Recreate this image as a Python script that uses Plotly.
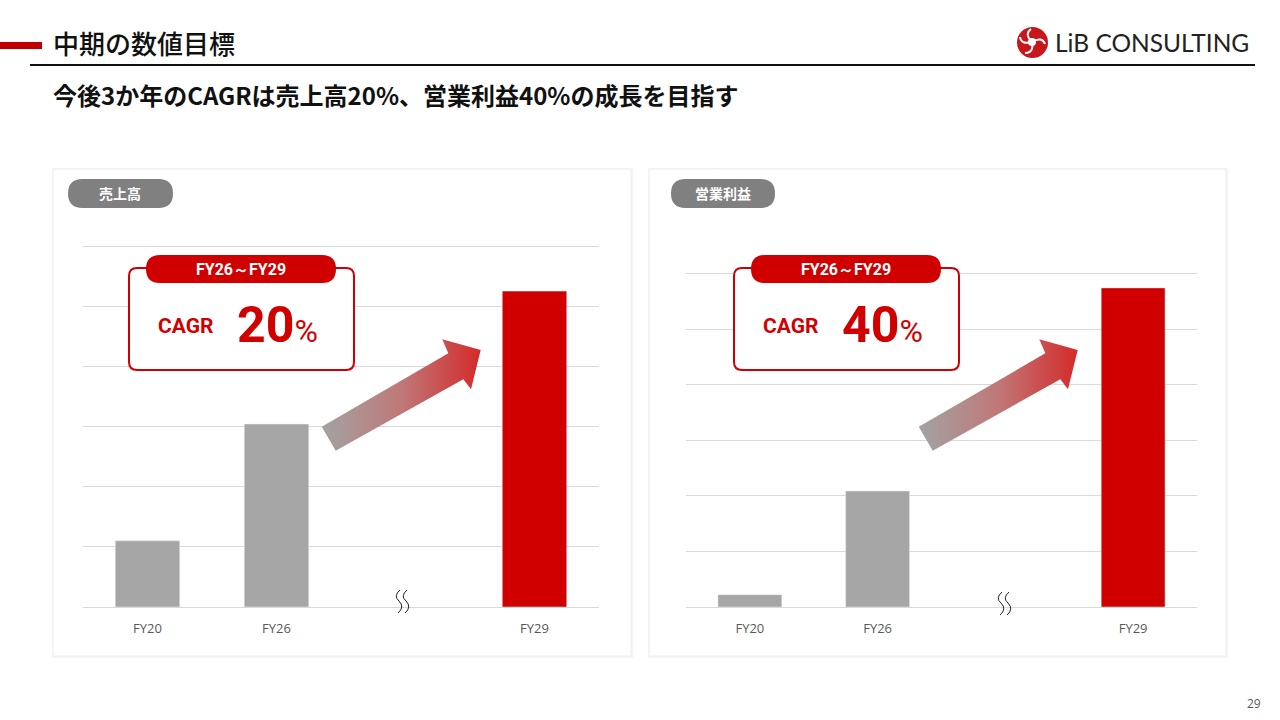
import plotly.graph_objects as go

# Data (heights in grid units)
categories = ["FY20", "FY26", "", "FY29"]
sales = [1.1, 3.04, None, 5.25]
profit = [0.22, 2.09, None, 5.75]
bar_colors = ["#a6a6a6", "#a6a6a6", "#a6a6a6", "#d00000"]

panel_titles = ["売上高", "営業利益"]
cagr_period = "FY26～FY29"
cagr_values = ["20", "40"]

RED = "#d00000"
NARROW = "Liberation Sans Narrow, Roboto, Arial, sans-serif"
JP = "Noto Sans CJK JP, sans-serif"
W, H = 1280, 720
YTOP = 6.05


def px(x):
    return x / W


def py(y):
    return 1 - y / H


def rrect(x0, y0, x1, y1, r):
    return (f"M {x0+r},{y0} L {x1-r},{y0} Q {x1},{y0} {x1},{y0+r} "
            f"L {x1},{y1-r} Q {x1},{y1} {x1-r},{y1} L {x0+r},{y1} "
            f"Q {x0},{y1} {x0},{y1-r} L {x0},{y0+r} Q {x0},{y0} {x0+r},{y0} Z")


xs = list(range(len(categories)))
fig = go.Figure()

fig.add_trace(go.Bar(x=xs, y=sales, marker_color=bar_colors, width=0.5,
                     xaxis="x", yaxis="y", hoverinfo="skip"))
fig.add_trace(go.Bar(x=xs, y=profit, marker_color=bar_colors, width=0.5,
                     xaxis="x2", yaxis="y2", hoverinfo="skip"))

# gradient arrows (pixel space overlay)
arrow_x = [321.7, 448.3, 442.3, 480.7, 471.0, 463.3, 335.7, 321.7]
arrow_y = [426.7, 353.3, 339.3, 350.0, 389.3, 379.3, 450.7, 426.7]
for dx in [0, 597]:
    fig.add_trace(go.Scatter(
        x=[v + dx for v in arrow_x], y=arrow_y, mode="lines", fill="toself",
        line=dict(width=0, color="rgba(0,0,0,0)"),
        fillgradient=dict(type="horizontal",
                          colorscale=[[0, "#a3a3a3"], [0.5, "#c07878"], [1, "#d42a2a"]]),
        xaxis="x3", yaxis="y3", hoverinfo="skip", showlegend=False))

axis_common = dict(range=[-0.5, 3.5], tickvals=xs, ticktext=categories,
                   showgrid=False, zeroline=False, showline=False, ticks="",
                   tickfont=dict(family="Open Sans, sans-serif", size=13, color="#595959"),
                   ticklabelstandoff=12, fixedrange=True)
yaxis_common = dict(range=[0, YTOP], dtick=1, showticklabels=False, gridcolor="#d9d9d9",
                    gridwidth=1, zeroline=True, zerolinecolor="#d9d9d9", zerolinewidth=1,
                    fixedrange=True)

# pixel positions of the 0 and 6 gridlines in each panel
left_top = 607 - YTOP * (607 - 246) / 6
right_top = 607 - YTOP * (607 - 274) / 6

fig.update_layout(
    width=W, height=H, margin=dict(l=0, r=0, t=0, b=0),
    paper_bgcolor="white", plot_bgcolor="rgba(0,0,0,0)", showlegend=False,
    xaxis=dict(domain=[px(83), px(599)], anchor="y", **axis_common),
    yaxis=dict(domain=[py(607), py(left_top)], anchor="x", **yaxis_common),
    xaxis2=dict(domain=[px(686), px(1197)], anchor="y2", **axis_common),
    yaxis2=dict(domain=[py(607), py(right_top)], anchor="x2", **yaxis_common),
    xaxis3=dict(domain=[0, 1], range=[0, W], visible=False, anchor="y3", fixedrange=True),
    yaxis3=dict(domain=[0, 1], range=[H, 0], visible=False, anchor="x3", fixedrange=True),
)

shapes = []
# cards (below everything)
for x0, x1 in [(53, 631), (649, 1226)]:
    shapes.append(dict(type="rect", xref="paper", yref="paper", layer="below",
                       x0=px(x0 - 1), x1=px(x1 + 2), y0=py(169 - 1), y1=py(656 + 2),
                       fillcolor="#f5f5f5", line=dict(width=0)))
    shapes.append(dict(type="rect", xref="paper", yref="paper", layer="below",
                       x0=px(x0), x1=px(x1), y0=py(169), y1=py(656),
                       fillcolor="white", line=dict(color="#eeeeee", width=1)))

# header
shapes.append(dict(type="rect", xref="x3", yref="y3", x0=0, x1=42, y0=42, y1=49,
                   fillcolor="#c00000", line=dict(width=0)))
shapes.append(dict(type="line", xref="x3", yref="y3", x0=30, x1=1255, y0=65, y1=65,
                   line=dict(color="#111111", width=2)))

# logo swirl
shapes.append(dict(type="circle", xref="x3", yref="y3", x0=1017, x1=1048, y0=27, y1=58,
                   fillcolor="#c8161d", line=dict(width=0)))
for p in ["M 1032,42 Q 1024,34 1031,29", "M 1032,42 Q 1042,36 1045,44",
          "M 1032,42 Q 1034,53 1025,53", "M 1032,42 Q 1021,45 1020,37"]:
    shapes.append(dict(type="path", xref="x3", yref="y3", path=p,
                       line=dict(color="white", width=2)))
shapes.append(dict(type="circle", xref="x3", yref="y3", x0=1028, x1=1036, y0=38, y1=46,
                   fillcolor="white", line=dict(width=0)))

# panel label pills
for (x0, x1), t in zip([(68, 173), (671, 775)], panel_titles):
    shapes.append(dict(type="path", xref="x3", yref="y3", path=rrect(x0, 179, x1, 208, 14.5),
                       fillcolor="#808080", line=dict(width=0)))

# CAGR callouts
for bx in [129, 734]:
    shapes.append(dict(type="path", xref="x3", yref="y3", path=rrect(bx, 268, bx + 225, 370, 8),
                       fillcolor="white", line=dict(color=RED, width=2)))
    shapes.append(dict(type="path", xref="x3", yref="y3",
                       path=rrect(bx + 17, 255, bx + 207, 283, 14),
                       fillcolor=RED, line=dict(width=0)))

# axis break squiggles
for sx, sy in [(400, 590), (1002, 592)]:
    for off in [0, 7]:
        x = sx + off
        shapes.append(dict(type="path", xref="x3", yref="y3",
                           path=f"M {x},{sy} Q {x-7},{sy+6} {x-1},{sy+11} Q {x+5},{sy+17} {x-2},{sy+23}",
                           line=dict(color="#222222", width=1)))

fig.update_layout(shapes=shapes)

ann = []


def text(x, y, s, size, color="#000000", family=JP, xanchor="center", weight="normal"):
    ann.append(dict(x=x, y=y, xref="x3", yref="y3", text=s, showarrow=False,
                    xanchor=xanchor, yanchor="middle",
                    font=dict(family=family, size=size, color=color, weight=weight)))


text(51, 42, "中期の数値目標", 26, "#111111", xanchor="left", weight=500)
text(51, 94, "今後3か年のCAGRは売上高20%、営業利益40%の成長を目指す", 24, "#111111",
     xanchor="left", weight="bold")
text(1053, 42, "LiB CONSULTING", 24.5, "#222222", family="Lato, Inter, sans-serif", xanchor="left")
text(1254, 703, "29", 12, "#595959", family="Open Sans, sans-serif")

for cx, t in zip([120, 723], panel_titles):
    text(cx, 193, t, 14, "white", weight="bold")

for bx, v in zip([129, 734], cagr_values):
    text(bx + 112, 269, cagr_period, 16, "white", family=NARROW, weight="bold")
    text(bx + 56, 326, "CAGR", 21, RED, family=NARROW, weight="bold")
    text(bx + 106, 325,
         f"<b>{v}</b><span style='font-size:32px'>%</span>", 50, RED,
         family=NARROW, xanchor="left")

fig.update_layout(annotations=ann)

fig.write_html("out.html", config={"displayModeBar": False},
               post_script="document.body.style.margin='0';")
